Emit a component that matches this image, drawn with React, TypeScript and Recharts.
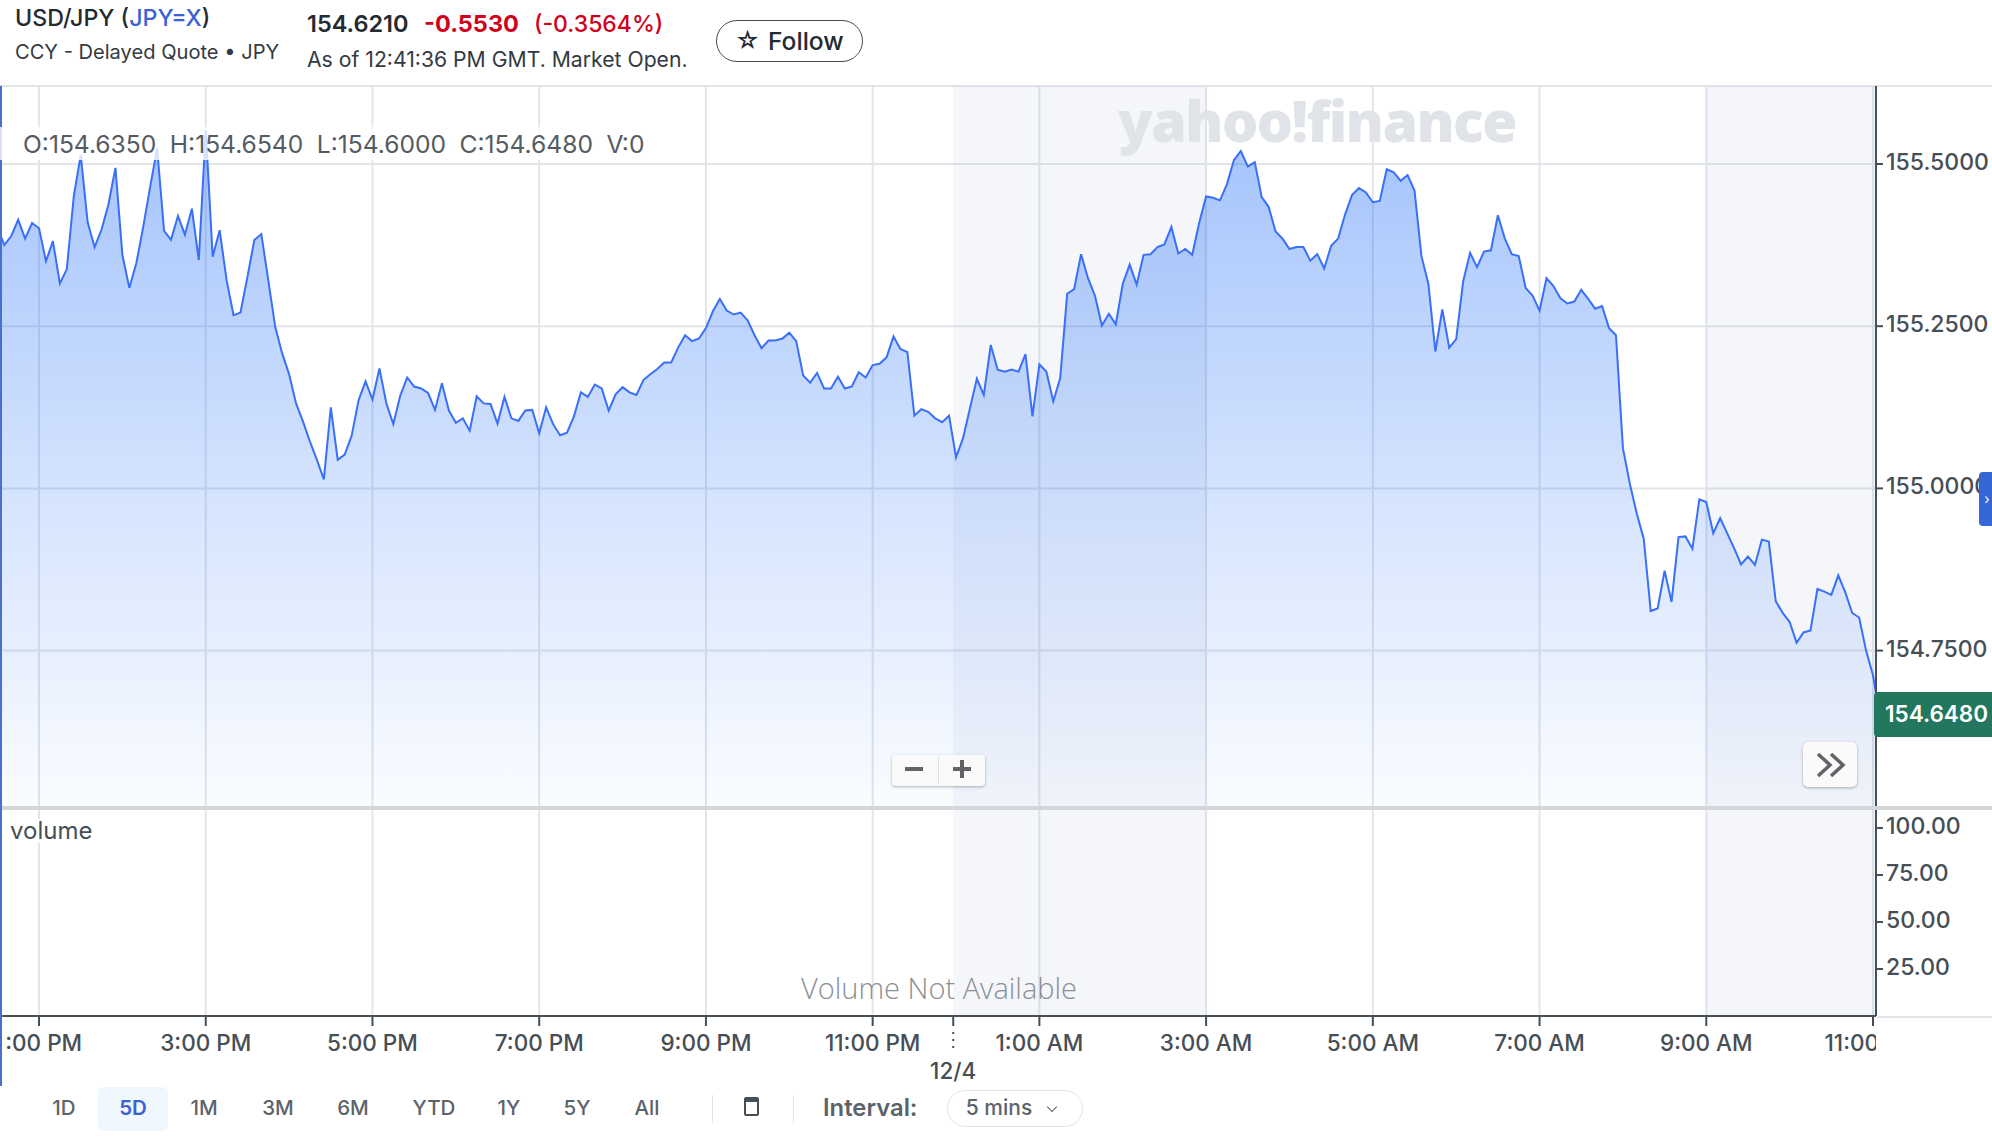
import React from "react";
import {
  ComposedChart, Area, Line, XAxis, YAxis, CartesianGrid, ReferenceArea,
} from "recharts";

// 5 minute closes
const closes = [
  155.403, 155.375, 155.389, 155.414, 155.385, 155.409, 155.401, 155.350, 155.381, 155.316,
  155.338, 155.450, 155.514, 155.410, 155.372, 155.399, 155.438, 155.494, 155.360, 155.309,
  155.347, 155.403, 155.465, 155.524, 155.397, 155.383, 155.420, 155.391, 155.431, 155.352,
  155.552, 155.357, 155.398, 155.321, 155.267, 155.271, 155.326, 155.383, 155.392, 155.321,
  155.249, 155.208, 155.176, 155.131, 155.103, 155.072, 155.044, 155.014, 155.125, 155.044,
  155.052, 155.081, 155.136, 155.165, 155.137, 155.185, 155.131, 155.099, 155.143, 155.171,
  155.157, 155.154, 155.147, 155.121, 155.162, 155.120, 155.101, 155.108, 155.089, 155.142,
  155.131, 155.130, 155.100, 155.141, 155.108, 155.104, 155.120, 155.121, 155.085, 155.125,
  155.099, 155.082, 155.086, 155.111, 155.148, 155.141, 155.160, 155.154, 155.120, 155.145,
  155.156, 155.148, 155.144, 155.167, 155.176, 155.184, 155.194, 155.194, 155.217, 155.236,
  155.227, 155.231, 155.247, 155.273, 155.292, 155.274, 155.268, 155.271, 155.259, 155.236,
  155.216, 155.228, 155.228, 155.231, 155.240, 155.227, 155.174, 155.163, 155.178, 155.154,
  155.154, 155.172, 155.154, 155.157, 155.179, 155.171, 155.190, 155.192, 155.202, 155.234,
  155.215, 155.210, 155.112, 155.122, 155.118, 155.108, 155.102, 155.112, 155.048, 155.077,
  155.123, 155.169, 155.144, 155.221, 155.183, 155.180, 155.183, 155.180, 155.207, 155.111,
  155.191, 155.180, 155.134, 155.170, 155.300, 155.307, 155.361, 155.324, 155.297, 155.251,
  155.269, 155.253, 155.315, 155.345, 155.314, 155.360, 155.361, 155.372, 155.376, 155.403,
  155.362, 155.369, 155.360, 155.409, 155.450, 155.448, 155.444, 155.469, 155.506, 155.520,
  155.496, 155.503, 155.449, 155.434, 155.396, 155.385, 155.369, 155.372, 155.372, 155.351,
  155.361, 155.339, 155.374, 155.385, 155.422, 155.452, 155.463, 155.456, 155.441, 155.443,
  155.492, 155.487, 155.474, 155.483, 155.459, 155.358, 155.315, 155.211, 155.276, 155.217,
  155.230, 155.319, 155.363, 155.341, 155.365, 155.367, 155.421, 155.385, 155.361, 155.358,
  155.309, 155.297, 155.274, 155.324, 155.312, 155.293, 155.285, 155.288, 155.306, 155.292,
  155.277, 155.281, 155.247, 155.236, 155.062, 155.007, 154.961, 154.922, 154.811, 154.815,
  154.873, 154.825, 154.925, 154.926, 154.907, 154.983, 154.979, 154.931, 154.954, 154.931,
  154.908, 154.883, 154.895, 154.882, 154.921, 154.918, 154.826, 154.808, 154.794, 154.762,
  154.778, 154.781, 154.845, 154.841, 154.836, 154.866, 154.840, 154.808, 154.801, 154.750,
  154.712, 154.648,
];

const timeLabels = [
  "1:00 PM", "3:00 PM", "5:00 PM", "7:00 PM", "9:00 PM", "11:00 PM",
  "1:00 AM", "3:00 AM", "5:00 AM", "7:00 AM", "9:00 AM", "11:00 AM",
];
const timeTicks = [6, 30, 54, 78, 102, 126, 150, 174, 198, 222, 246, 270];
const dayBreak = 137.6;
const priceTicks = [154.75, 155, 155.25, 155.5];
const volumeTicks = [25, 50, 75, 100];
const rangeTabs = [
  ["1D", 64], ["5D", 133], ["1M", 204], ["3M", 278], ["6M", 353],
  ["YTD", 434], ["1Y", 509], ["5Y", 577], ["All", 647],
] as const;

const xDomain = [0.67, 270.43];
const sessions = [[dayBreak, 174], [246, 270.43]];

const priceData = closes.map((close, i) => ({ i, close }));
const volumeData = closes.map((_, i) => ({ i, volume: null }));

const FONT = "Inter, sans-serif";
const INK = "#464e56";
const GRID = "#e2e5ea";

const axisTick = { fill: INK, fontSize: 22.5, fontWeight: 500, fontFamily: FONT };

const ValueTick = ({ x, y, payload, digits }: any) => (
  <text x={x + 1} y={y + 6} {...axisTick} fontSize={23}>{payload.value.toFixed(digits)}</text>
);

const TimeTick = ({ x, y, payload }: any) => {
  if (payload.value === dayBreak) {
    return (
      <g>
        <line x1={x} x2={x} y1={y + 4} y2={y + 24} stroke={INK} strokeWidth={2} strokeDasharray="2 5" />
        <text x={x} y={y + 51} textAnchor="middle" {...axisTick}>12/4</text>
      </g>
    );
  }
  const label = timeLabels[timeTicks.indexOf(payload.value)];
  // nested svg so the first and last label get cut at the plot edges
  return (
    <svg x={5} y={0} width={1871} height={280}>
      <text x={x - 5} y={y + 23} textAnchor="middle" {...axisTick}>{label}</text>
    </svg>
  );
};

const Box = ({ x, y, w, h, style, children }: any) => (
  <div style={{ position: "absolute", left: x, top: y, width: w, height: h, ...style }}>{children}</div>
);

const Label = ({ x, y, size = 20, weight = 400, color = INK, center, children, style }: any) => (
  <div
    style={{
      position: "absolute", left: x, top: y, fontSize: size, fontWeight: weight, color,
      lineHeight: 1, whiteSpace: "nowrap", transform: center ? "translate(-50%, -50%)" : "translateY(-50%)",
      ...style,
    }}
  >
    {children}
  </div>
);

export default function App() {
  const last = closes[closes.length - 1];

  return (
    <div style={{ position: "relative", width: 1992, height: 1140, overflow: "hidden", background: "#fff", fontFamily: FONT }}>
      <style>{"body{margin:0}"}</style>

      {/* quote header */}
      <Label x={15} y={19} size={23.2} weight={500} color="#232a31">
        USD/JPY (<span style={{ color: "#3b62d4" }}>JPY=X</span>)
      </Label>
      <Label x={15} y={52} size={20.1} color="#333a41">CCY - Delayed Quote • JPY</Label>
      <Label x={307} y={24} size={23.5} weight={600} color="#232a31">154.6210</Label>
      <Label x={424} y={24} size={23.5} weight={700} color="#d0021b">-0.5530</Label>
      <Label x={534} y={24} size={23} weight={500} color="#d0021b">(-0.3564%)</Label>
      <Label x={307} y={60} size={21.2} color="#333a41">As of 12:41:36 PM GMT. Market Open.</Label>
      <Box x={716} y={20} w={147} h={42} style={{ border: "1.5px solid #464e56", borderRadius: 22, boxSizing: "border-box" }} />
      <Label x={735} y={41} size={24} color="#232a31">☆</Label>
      <Label x={768} y={41} size={24.6} weight={500} color="#232a31">Follow</Label>
      <Box x={0} y={85} w={1992} h={2} style={{ background: GRID }} />

      {/* price panel */}
      <div style={{ position: "absolute", left: 0, top: 86 }}>
        <ComposedChart width={1992} height={722} data={priceData} margin={{ top: 0, right: 0, bottom: 0, left: 2 }}>
          <defs>
            <linearGradient id="priceFill" x1="0" y1="0" x2="0" y2="1">
              <stop offset="0%" stopColor="#0f62f8" stopOpacity={0.38} />
              <stop offset="55%" stopColor="#0f62f8" stopOpacity={0.17} />
              <stop offset="100%" stopColor="#0f62f8" stopOpacity={0.02} />
            </linearGradient>
          </defs>
          <CartesianGrid stroke={GRID} strokeWidth={2} verticalValues={timeTicks} horizontalValues={priceTicks} />
          <XAxis dataKey="i" type="number" domain={xDomain} ticks={timeTicks} allowDataOverflow hide />
          <YAxis
            orientation="right"
            width={116}
            domain={[154.5074, 155.6202]}
            ticks={priceTicks}
            allowDataOverflow
            tick={<ValueTick digits={4} />}
            tickSize={7}
            stroke={INK}
            strokeWidth={2}
          />
          {sessions.map(([a, b]) => (
            <ReferenceArea key={a} x1={a} x2={b} fill="rgb(145,165,205)" fillOpacity={0.1} stroke="none" ifOverflow="hidden" />
          ))}
          <Area
            dataKey="close"
            type="linear"
            stroke="#3a6ff7"
            strokeWidth={2}
            fill="url(#priceFill)"
            fillOpacity={1}
            dot={false}
            activeDot={false}
            isAnimationActive={false}
          />
        </ComposedChart>
      </div>

      {/* volume panel, carries the time axis */}
      <div style={{ position: "absolute", left: 0, top: 808 }}>
        <ComposedChart width={1992} height={280} data={volumeData} margin={{ top: 2, right: 0, bottom: 0, left: 2 }}>
          <CartesianGrid stroke={GRID} strokeWidth={2} horizontal={false} verticalValues={timeTicks} />
          <XAxis
            dataKey="i"
            type="number"
            domain={xDomain}
            ticks={[...timeTicks, dayBreak]}
            allowDataOverflow
            interval={0}
            height={72}
            tick={<TimeTick />}
            tickSize={10}
            stroke={INK}
            strokeWidth={2}
          />
          <YAxis
            orientation="right"
            width={116}
            domain={[0, 109.6]}
            ticks={volumeTicks}
            allowDataOverflow
            tick={<ValueTick digits={2} />}
            tickSize={7}
            stroke={INK}
            strokeWidth={2}
          />
          {sessions.map(([a, b]) => (
            <ReferenceArea key={a} x1={a} x2={b} fill="rgb(145,165,205)" fillOpacity={0.1} stroke="none" ifOverflow="hidden" />
          ))}
          <Line dataKey="volume" dot={false} isAnimationActive={false} />
        </ComposedChart>
      </div>

      {/* panel rules */}
      <Box x={0} y={806} w={1992} h={4} style={{ background: "#d3d6da" }} />
      <Box x={1877} y={1016} w={115} h={2} style={{ background: GRID }} />
      <Box x={0} y={86} w={2} h={1000} style={{ background: "#4a6fcf" }} />

      {/* overlays */}
      <Box x={0} y={127} w={665} h={33} style={{ background: "rgba(255,255,255,0.78)" }} />
      <Label x={23} y={144} size={24.6} color="#555b62" style={{ wordSpacing: 6.6 }}>
        O:154.6350 H:154.6540 L:154.6000 C:154.6480 V:0
      </Label>
      <Label x={1118} y={120} size={57} weight={800} color="#e0e3e8" style={{ fontFamily: "'Open Sans', sans-serif", letterSpacing: -1.5 }}>
        yahoo!finance
      </Label>
      <Label x={10} y={831} size={24} color={INK} style={{ background: "#fff" }}>volume</Label>
      <Label x={939} y={987} size={29} center weight={300} color="#8a8f95" style={{ fontFamily: "'Open Sans', sans-serif" }}>
        Volume Not Available
      </Label>

      <Box x={1874} y={692} w={118} h={45} style={{ background: "#22775e", borderRadius: "4px 0 0 4px" }} />
      <Label x={1885} y={714} size={22.5} weight={600} color="#fff">{last.toFixed(4)}</Label>
      <Box x={1979} y={472} w={13} h={54} style={{ background: "#3766d6", borderRadius: "4px 0 0 4px" }} />
      <Label x={1987} y={499} size={14} center color="#fff">›</Label>

      <Box x={892} y={755} w={93} h={31} style={{ background: "#fafafa", borderRadius: 4, boxShadow: "0 1px 3px rgba(0,0,0,0.3)" }} />
      <Box x={938} y={757} w={1} h={27} style={{ background: "#dcdfe3" }} />
      <Box x={905} y={767} w={18} h={4} style={{ background: "#5f6368" }} />
      <Box x={953} y={767} w={18} h={4} style={{ background: "#5f6368" }} />
      <Box x={960} y={760} w={4} h={18} style={{ background: "#5f6368" }} />
      <Box x={1803} y={742} w={54} h={45} style={{ background: "#fafafa", borderRadius: 5, boxShadow: "0 1px 3px rgba(0,0,0,0.3)" }}>
        <svg width={54} height={45} fill="none" stroke="#5f6368" strokeWidth={3.5}>
          <path d="M15 12 L27 23 L15 34 M28 12 L40 23 L28 34" />
        </svg>
      </Box>

      {/* range bar */}
      <Box x={98} y={1087} w={70} h={44} style={{ background: "#f0f7ff", borderRadius: 6 }} />
      {rangeTabs.map(([name, x]) => (
        <Label key={name} x={x} y={1108} size={20.5} center weight={name === "5D" ? 600 : 500} color={name === "5D" ? "#3b62d4" : "#5b636a"}>
          {name}
        </Label>
      ))}
      <Box x={712} y={1095} w={1} h={28} style={{ background: "#e0e4e9" }} />
      <Box x={793} y={1095} w={1} h={28} style={{ background: "#e0e4e9" }} />
      <Box x={744} y={1097} w={15} h={19} style={{ border: `2px solid ${INK}`, borderTopWidth: 5, borderRadius: 2, boxSizing: "border-box" }} />
      <Label x={823} y={1108} size={23.8} weight={600} color="#5b636a">Interval:</Label>
      <Box x={947} y={1090} w={136} h={37} style={{ border: "1.5px solid #e0e4e9", borderRadius: 19, boxSizing: "border-box" }} />
      <Label x={999} y={1107} size={21} center weight={500} color="#5b636a">5 mins</Label>
      <Box x={1048} y={1103} w={0} h={0} style={{ width: 7, height: 7, borderRight: `1.5px solid ${INK}`, borderBottom: `1.5px solid ${INK}`, transform: "rotate(45deg) scale(0.9)" }} />
    </div>
  );
}
